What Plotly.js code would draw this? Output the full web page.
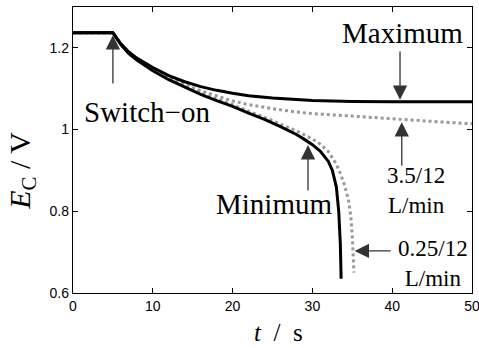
<!DOCTYPE html>
<html>
<head>
<meta charset="utf-8">
<script src="https://cdn.plot.ly/plotly-3.0.1.min.js"></script>
<style>html,body{margin:0;padding:0;background:#fff;}#chart{width:479px;height:348px;}</style>
</head>
<body>
<div id="chart"></div>
<script>
// Maximum (black)
var tMax = [0, 5, 6, 7, 8, 9, 10, 12, 14, 16, 18, 20, 22, 25, 28, 30, 35, 40, 50];
var eMax = [1.237, 1.237, 1.21, 1.19, 1.175, 1.163, 1.152, 1.132, 1.117, 1.105, 1.096, 1.089, 1.083, 1.077, 1.073, 1.071, 1.069, 1.068, 1.068];
// Minimum (black)
var tMin = [0, 5, 6, 7, 8, 9, 10, 12, 14, 16, 18, 20, 22, 24, 26, 28, 29, 30, 31, 32, 32.5, 33, 33.3, 33.5, 33.6];
var eMin = [1.237, 1.237, 1.208, 1.186, 1.17, 1.156, 1.144, 1.122, 1.103, 1.086, 1.071, 1.057, 1.04, 1.025, 1.007, 0.988, 0.976, 0.963, 0.947, 0.922, 0.9, 0.86, 0.8, 0.72, 0.635];
// 0.25/12 L/min (gray dotted)
var tLow = [0, 5, 6, 7, 8, 9, 10, 12, 14, 16, 18, 20, 22, 24, 26, 28, 30, 31, 32, 33, 33.5, 34, 34.5, 34.8, 35, 35.1, 35.2];
var eLow = [1.237, 1.237, 1.209, 1.188, 1.172, 1.158, 1.146, 1.124, 1.106, 1.089, 1.075, 1.061, 1.045, 1.03, 1.013, 0.997, 0.977, 0.964, 0.946, 0.915, 0.893, 0.865, 0.83, 0.79, 0.74, 0.7, 0.65];
// 3.5/12 L/min (gray dotted)
var tHigh = [0, 5, 6, 7, 8, 9, 10, 12, 14, 16, 18, 20, 22, 25, 28, 30, 35, 40, 45, 50];
var eHigh = [1.237, 1.237, 1.209, 1.188, 1.173, 1.16, 1.148, 1.127, 1.11, 1.095, 1.082, 1.07, 1.061, 1.051, 1.043, 1.039, 1.033, 1.026, 1.02, 1.014];

var xTicks = [0, 10, 20, 30, 40, 50];
var yTicks = [0.6, 0.8, 1, 1.2];

var sans = 'Liberation Sans';
var serif = 'Liberation Serif';

var traces = [
  {x: tHigh, y: eHigh, mode: 'lines', line: {color: '#999999', width: 3, dash: 'dot'}, hoverinfo: 'skip'},
  {x: tLow, y: eLow, mode: 'lines', line: {color: '#999999', width: 3, dash: 'dot'}, hoverinfo: 'skip'},
  {x: tMax, y: eMax, mode: 'lines', line: {color: '#000000', width: 3}, hoverinfo: 'skip'},
  {x: tMin, y: eMin, mode: 'lines', line: {color: '#000000', width: 3}, hoverinfo: 'skip'}
];

function arrow(x, y, ax, ay) {
  return {x: x, y: y, ax: ax, ay: ay, xref: 'x', yref: 'y', axref: 'x', ayref: 'y',
    text: '', showarrow: true, arrowhead: 2, arrowsize: 2.2, arrowwidth: 1.3, arrowcolor: '#333333', standoff: 0};
}
function label(x, y, text, size) {
  return {x: x, y: y, xref: 'x', yref: 'y', text: text, showarrow: false,
    xanchor: 'center', yanchor: 'middle', font: {family: serif, size: size, color: '#000'}};
}

var layout = {
  width: 479, height: 348,
  margin: {l: 73, r: 7, t: 7, b: 55},
  paper_bgcolor: '#fff', plot_bgcolor: '#fff',
  showlegend: false,
  font: {family: sans, size: 14, color: '#000'},
  xaxis: {range: [0, 50], tickvals: xTicks, ticks: 'inside', ticklen: 5, tickwidth: 1, tickcolor: '#000',
    showline: true, linecolor: '#000', linewidth: 1.2, mirror: 'ticks', showgrid: false, zeroline: false,
    ticklabeloverflow: 'allow',
    tickfont: {family: sans, size: 14, color: '#000'}},
  yaxis: {range: [0.6, 1.3], tickvals: yTicks, ticks: 'inside', ticklen: 5, tickwidth: 1, tickcolor: '#000',
    showline: true, linecolor: '#000', linewidth: 1.2, mirror: 'ticks', showgrid: false, zeroline: false,
    ticklabeloverflow: 'allow',
    tickfont: {family: sans, size: 14, color: '#000'}},
  annotations: [
    arrow(5.0, 1.231, 5.0, 1.109),
    arrow(40.98, 1.073, 40.98, 1.195),
    arrow(29.45, 0.962, 29.45, 0.847),
    arrow(41.2, 1.018, 41.2, 0.908),
    arrow(35.3, 0.703, 40.0, 0.703),
    label(41.35, 1.236, 'Maximum', 29),
    label(9.27, 1.043, 'Switch\u2212on', 29),
    label(25.19, 0.818, 'Minimum', 29),
    label(43.0, 0.852, '3.5/12<br>L/min', 23),
    label(45.1, 0.673, '0.25/12<br>L/min', 23),
    {x: -0.128, y: 0.427, xref: 'paper', yref: 'paper', text: '<i>E</i><sub>C</sub> / V', textangle: -90,
      showarrow: false, xanchor: 'center', yanchor: 'middle', font: {family: serif, size: 30, color: '#000'}},
    {x: 0.514, y: -0.1923, xref: 'paper', yref: 'paper', text: '<i>t</i>  /  s',
      showarrow: false, xanchor: 'center', yanchor: 'bottom', font: {family: serif, size: 25, color: '#000'}}
  ]
};

Plotly.newPlot('chart', traces, layout, {displayModeBar: false, staticPlot: true});
</script>
</body>
</html>
